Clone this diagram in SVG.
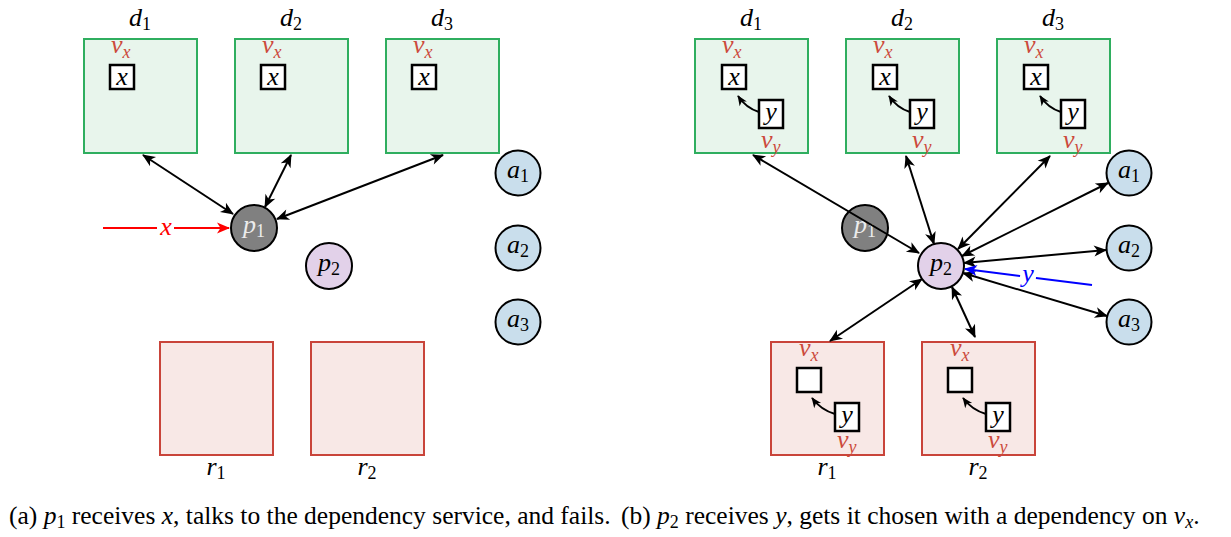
<svg xmlns="http://www.w3.org/2000/svg" width="1231" height="537" viewBox="0 0 1231 537">
  <style>
    text { font-family: "Liberation Serif", "Times New Roman", serif; font-size: 26px; font-style: italic; fill: #000; }
    .sub { font-size: 18px; font-style: normal; }
    .subi { font-size: 18px; font-style: italic; }
    .red { fill: #cc4a3c; }
    .light { fill: #ececec; }
    .dbox { fill: #e8f5ec; stroke: #2fae5f; stroke-width: 2; }
    .rbox { fill: #f8e8e6; stroke: #c9443a; stroke-width: 2; }
    .cell { fill: #fff; stroke: #000; stroke-width: 2.5; }
    .circ { stroke: #000; stroke-width: 2; }
    .acc { fill: #c9deec; }
    .edge { fill: none; stroke: #000; stroke-width: 2; }
    .cap { font-size: 25.5px; font-style: normal; }
    .it { font-style: italic; }
  </style>
  <defs>
    <marker id="ah" viewBox="-13 -7 15 14" refX="0" refY="0" markerWidth="15" markerHeight="14" markerUnits="userSpaceOnUse" orient="auto-start-reverse">
      <path d="M1,0 L-12,-5.5 L-8.5,0 L-12,5.5 Z" fill="#000"/>
    </marker>
    <marker id="ahs" viewBox="-13 -7 15 14" refX="0" refY="0" markerWidth="12" markerHeight="11" markerUnits="userSpaceOnUse" orient="auto">
      <path d="M1,0 L-12,-5.5 L-8.5,0 L-12,5.5 Z" fill="#000"/>
    </marker>
    <marker id="ahr" viewBox="-13 -7 15 14" refX="0" refY="0" markerWidth="15" markerHeight="14" markerUnits="userSpaceOnUse" orient="auto">
      <path d="M1,0 L-12,-5.5 L-8.5,0 L-12,5.5 Z" fill="#ff0000"/>
    </marker>
    <marker id="ahb" viewBox="-13 -7 15 14" refX="0" refY="0" markerWidth="15" markerHeight="14" markerUnits="userSpaceOnUse" orient="auto">
      <path d="M1,0 L-12,-5.5 L-8.5,0 L-12,5.5 Z" fill="#0000ff"/>
    </marker>
  </defs>

  <!-- ===== panel (a) ===== -->
  <g id="a-d1">
    <rect class="dbox" x="84" y="39" width="113" height="114"/>
    <text x="140" y="26" text-anchor="middle">d<tspan class="sub" dy="4">1</tspan></text>
    <text class="red" x="111" y="53">v<tspan class="subi" dy="5">x</tspan></text>
    <rect class="cell" x="110" y="65" width="24" height="24"/>
    <text x="122" y="85" text-anchor="middle">x</text>
  </g>
  <g id="a-d2">
    <rect class="dbox" x="235" y="39" width="113" height="114"/>
    <text x="291" y="26" text-anchor="middle">d<tspan class="sub" dy="4">2</tspan></text>
    <text class="red" x="262" y="53">v<tspan class="subi" dy="5">x</tspan></text>
    <rect class="cell" x="261" y="65" width="24" height="24"/>
    <text x="273" y="85" text-anchor="middle">x</text>
  </g>
  <g id="a-d3">
    <rect class="dbox" x="386" y="39" width="113" height="114"/>
    <text x="442" y="26" text-anchor="middle">d<tspan class="sub" dy="4">3</tspan></text>
    <text class="red" x="413" y="53">v<tspan class="subi" dy="5">x</tspan></text>
    <rect class="cell" x="412" y="65" width="24" height="24"/>
    <text x="424" y="85" text-anchor="middle">x</text>
  </g>
  <g id="a-r1">
    <rect class="rbox" x="160" y="342" width="113" height="113"/>
    <text x="216" y="475" text-anchor="middle">r<tspan class="sub" dy="4">1</tspan></text>
  </g>
  <g id="a-r2">
    <rect class="rbox" x="311" y="342" width="113" height="113"/>
    <text x="367" y="475" text-anchor="middle">r<tspan class="sub" dy="4">2</tspan></text>
  </g>
  <g id="a-a1">
    <circle class="circ acc" cx="518" cy="173" r="22.5"/>
    <text x="518" y="178" text-anchor="middle">a<tspan class="sub" dy="4">1</tspan></text>
  </g>
  <g id="a-a2">
    <circle class="circ acc" cx="518" cy="248" r="22.5"/>
    <text x="518" y="253" text-anchor="middle">a<tspan class="sub" dy="4">2</tspan></text>
  </g>
  <g id="a-a3">
    <circle class="circ acc" cx="518" cy="322" r="22.5"/>
    <text x="518" y="327" text-anchor="middle">a<tspan class="sub" dy="4">3</tspan></text>
  </g>

  <g id="a-edges">
    <line class="edge" x1="143" y1="155" x2="233" y2="214" marker-start="url(#ah)" marker-end="url(#ah)"/>
    <line class="edge" x1="291" y1="155" x2="265" y2="207" marker-start="url(#ah)" marker-end="url(#ah)"/>
    <line class="edge" x1="443" y1="155" x2="277" y2="219" marker-start="url(#ah)" marker-end="url(#ah)"/>
    <line x1="103" y1="228" x2="229" y2="228" stroke="#ff0000" stroke-width="2" marker-end="url(#ahr)"/>
    <rect x="157" y="216" width="17" height="22" fill="#fff"/>
    <text x="166" y="235" text-anchor="middle" style="fill:#ff0000">x</text>
  </g>

  <g id="a-p1">
    <circle class="circ" cx="254" cy="228" r="23" fill="#808080"/>
    <text class="light" x="254" y="233" text-anchor="middle">p<tspan class="sub" dy="4">1</tspan></text>
  </g>
  <g id="a-p2">
    <circle class="circ" cx="329" cy="266" r="23" fill="#e2d1e9"/>
    <text x="329" y="271" text-anchor="middle">p<tspan class="sub" dy="4">2</tspan></text>
  </g>

  <!-- ===== panel (b) ===== -->
  <g id="b-d1">
    <rect class="dbox" x="695" y="39" width="113" height="114"/>
    <text x="751" y="26" text-anchor="middle">d<tspan class="sub" dy="4">1</tspan></text>
    <text class="red" x="722" y="53">v<tspan class="subi" dy="5">x</tspan></text>
    <rect class="cell" x="722" y="65" width="24" height="24"/>
    <text x="734" y="85" text-anchor="middle">x</text>
    <rect class="cell" x="759" y="100" width="24" height="28"/>
    <text x="771" y="120" text-anchor="middle">y</text>
    <path class="edge" d="M759,112 Q746,108 738,96" marker-end="url(#ahs)"/>
    <text class="red" x="761" y="148">v<tspan class="subi" dy="5">y</tspan></text>
  </g>
  <g id="b-d2">
    <rect class="dbox" x="846" y="39" width="113" height="114"/>
    <text x="902" y="26" text-anchor="middle">d<tspan class="sub" dy="4">2</tspan></text>
    <text class="red" x="873" y="53">v<tspan class="subi" dy="5">x</tspan></text>
    <rect class="cell" x="873" y="65" width="24" height="24"/>
    <text x="885" y="85" text-anchor="middle">x</text>
    <rect class="cell" x="910" y="100" width="24" height="28"/>
    <text x="922" y="120" text-anchor="middle">y</text>
    <path class="edge" d="M910,112 Q897,108 889,96" marker-end="url(#ahs)"/>
    <text class="red" x="912" y="148">v<tspan class="subi" dy="5">y</tspan></text>
  </g>
  <g id="b-d3">
    <rect class="dbox" x="997" y="39" width="113" height="114"/>
    <text x="1053" y="26" text-anchor="middle">d<tspan class="sub" dy="4">3</tspan></text>
    <text class="red" x="1024" y="53">v<tspan class="subi" dy="5">x</tspan></text>
    <rect class="cell" x="1024" y="65" width="24" height="24"/>
    <text x="1036" y="85" text-anchor="middle">x</text>
    <rect class="cell" x="1061" y="100" width="24" height="28"/>
    <text x="1073" y="120" text-anchor="middle">y</text>
    <path class="edge" d="M1061,112 Q1048,108 1040,96" marker-end="url(#ahs)"/>
    <text class="red" x="1063" y="148">v<tspan class="subi" dy="5">y</tspan></text>
  </g>
  <g id="b-r1">
    <rect class="rbox" x="771" y="342" width="113" height="113"/>
    <text class="red" x="799" y="356">v<tspan class="subi" dy="5">x</tspan></text>
    <rect class="cell" x="797" y="368" width="24" height="24"/>
    <rect class="cell" x="835" y="403" width="24" height="28"/>
    <text x="847" y="423" text-anchor="middle">y</text>
    <path class="edge" d="M835,414 Q821,410 812,398" marker-end="url(#ahs)"/>
    <text class="red" x="837" y="448">v<tspan class="subi" dy="5">y</tspan></text>
    <text x="827" y="475" text-anchor="middle">r<tspan class="sub" dy="4">1</tspan></text>
  </g>
  <g id="b-r2">
    <rect class="rbox" x="922" y="342" width="113" height="113"/>
    <text class="red" x="950" y="356">v<tspan class="subi" dy="5">x</tspan></text>
    <rect class="cell" x="948" y="368" width="24" height="24"/>
    <rect class="cell" x="986" y="403" width="24" height="28"/>
    <text x="998" y="423" text-anchor="middle">y</text>
    <path class="edge" d="M986,414 Q972,410 963,398" marker-end="url(#ahs)"/>
    <text class="red" x="988" y="448">v<tspan class="subi" dy="5">y</tspan></text>
    <text x="978" y="475" text-anchor="middle">r<tspan class="sub" dy="4">2</tspan></text>
  </g>
  <g id="b-a1">
    <circle class="circ acc" cx="1129" cy="173" r="22.5"/>
    <text x="1129" y="178" text-anchor="middle">a<tspan class="sub" dy="4">1</tspan></text>
  </g>
  <g id="b-a2">
    <circle class="circ acc" cx="1129" cy="248" r="22.5"/>
    <text x="1129" y="253" text-anchor="middle">a<tspan class="sub" dy="4">2</tspan></text>
  </g>
  <g id="b-a3">
    <circle class="circ acc" cx="1129" cy="322" r="22.5"/>
    <text x="1129" y="327" text-anchor="middle">a<tspan class="sub" dy="4">3</tspan></text>
  </g>
  <g id="b-p1">
    <circle class="circ" cx="865" cy="228" r="23" fill="#808080"/>
    <text class="light" x="865" y="233" text-anchor="middle">p<tspan class="sub" dy="4">1</tspan></text>
  </g>

  <g id="b-edges">
    <line class="edge" x1="753" y1="155" x2="919" y2="253" marker-start="url(#ah)" marker-end="url(#ah)"/>
    <line class="edge" x1="906" y1="156" x2="934" y2="244" marker-start="url(#ah)" marker-end="url(#ah)"/>
    <line class="edge" x1="1050" y1="156" x2="958" y2="249" marker-start="url(#ah)" marker-end="url(#ah)"/>
    <line class="edge" x1="1108" y1="183" x2="962" y2="256" marker-start="url(#ah)" marker-end="url(#ah)"/>
    <line class="edge" x1="1106" y1="250" x2="964" y2="263" marker-start="url(#ah)" marker-end="url(#ah)"/>
    <line class="edge" x1="1107" y1="316" x2="963" y2="273" marker-start="url(#ah)" marker-end="url(#ah)"/>
    <line class="edge" x1="830" y1="341" x2="922" y2="279" marker-start="url(#ah)" marker-end="url(#ah)"/>
    <line class="edge" x1="975" y1="337" x2="952" y2="287" marker-start="url(#ah)" marker-end="url(#ah)"/>
    <line x1="1092" y1="285" x2="965" y2="269" stroke="#0000ff" stroke-width="2" marker-end="url(#ahb)"/>
    <rect x="1020" y="266" width="16" height="22" fill="#fff" transform="rotate(7 1028 277)"/>
    <text x="1028" y="282" text-anchor="middle" style="fill:#0000ff">y</text>
  </g>

  <g id="b-p2">
    <circle class="circ" cx="941" cy="266" r="23" fill="#e2d1e9"/>
    <text x="941" y="271" text-anchor="middle">p<tspan class="sub" dy="4">2</tspan></text>
  </g>

  <!-- sub-figure captions -->
  <text class="cap" x="9" y="524">(a) <tspan class="it">p</tspan><tspan class="sub" dy="4">1</tspan><tspan dy="-4"> receives </tspan><tspan class="it">x</tspan>, talks to the dependency service, and fails.</text>
  <text class="cap" x="621" y="524">(b) <tspan class="it">p</tspan><tspan class="sub" dy="4">2</tspan><tspan dy="-4"> receives </tspan><tspan class="it">y</tspan>, gets it chosen with a dependency on <tspan class="it">v</tspan><tspan class="subi" dy="4">x</tspan><tspan dy="-4">.</tspan></text>
</svg>
